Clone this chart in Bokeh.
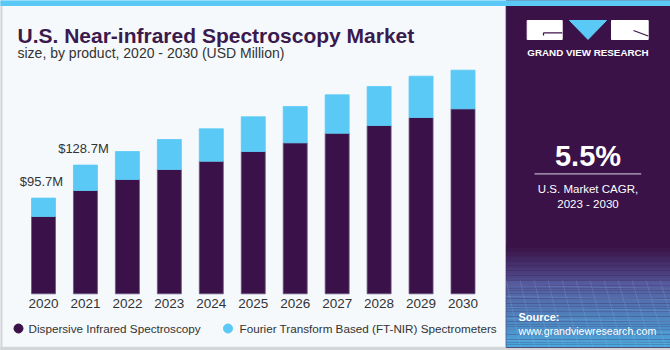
from bokeh.plotting import figure
from bokeh.models import Range1d, ColumnDataSource
from bokeh.core.properties import value
from bokeh.embed import file_html
from bokeh.resources import INLINE

# ---------------- data ----------------
years = [2020, 2021, 2022, 2023, 2024, 2025, 2026, 2027, 2028, 2029, 2030]
dispersive = [77.3, 103.3, 114.3, 124.3, 132.6, 142.3, 151.0, 160.6, 168.3, 176.3, 185.0]
ftnir = [18.4, 25.4, 28.0, 30.0, 32.4, 34.7, 36.3, 38.4, 39.0, 41.3, 38.6]
series_names = ["Dispersive Infrared Spectroscopy", "Fourier Transform Based (FT-NIR) Spectrometers"]
year_labels = [str(y) for y in years]
annot_years = [2020, 2021]
title_text = "U.S. Near-infrared Spectroscopy Market"
subtitle_text = "size, by product, 2020 - 2030 (USD Million)"
cagr_text = "5.5%"
cagr_caption = ["U.S. Market CAGR,", "2023 - 2030"]

# ---------------- style ----------------
DARK = "#3a1148"
CYAN = "#5bc9f5"
PANEL = "#3a1247"
BG = "#f5f9fc"
TXT = "#333333"
FONT = "Liberation Sans"

W, H = 670, 350
p = figure(width=W, height=H, output_backend="svg", toolbar_location=None,
           x_range=Range1d(2018.975, 2034.946), y_range=Range1d(-56.7, 293.3),
           x_axis_type=None, y_axis_type=None, min_border=0)
p.grid.visible = False
p.outline_line_color = None
p.background_fill_color = BG
p.border_fill_color = BG
p.extra_x_ranges = {"px": Range1d(0, W)}
p.extra_y_ranges = {"px": Range1d(H, 0)}
PX = dict(x_range_name="px", y_range_name="px")

# borders / stripes
p.quad(left=[0], right=[1.5], top=[0], bottom=[H], color="#d3d6d9", **PX)
p.quad(left=[0], right=[W], top=[346.8], bottom=[H], color="#d3d6d9", **PX)
p.quad(left=[505.7], right=[W], top=[0], bottom=[346.8], color=PANEL, **PX)
p.quad(left=[0], right=[W], top=[0], bottom=[5], color=CYAN, **PX)


def mix(c1, c2, t):
    a = [int(c1[i:i + 2], 16) for i in (1, 3, 5)]
    b = [int(c2[i:i + 2], 16) for i in (1, 3, 5)]
    return "#%02x%02x%02x" % tuple(round(a[k] + (b[k] - a[k]) * t) for k in range(3))


# source area gradient
tops, bots, cols = [], [], []
y0, y1, y2 = 245.0, 280.0, 346.8
n1, n2 = 14, 26
for i in range(n1):
    tops.append(y0 + (y1 - y0) * i / n1)
    bots.append(y0 + (y1 - y0) * (i + 1) / n1)
    cols.append(mix(PANEL, "#4e4a8a", i / (n1 - 1)))
for i in range(n2):
    tops.append(y1 + (y2 - y1) * i / n2)
    bots.append(y1 + (y2 - y1) * (i + 1) / n2)
    cols.append(mix("#55589a", "#4aa6db", i / (n2 - 1)))
p.quad(left=505.7, right=W, top=tops, bottom=bots, color=cols, line_color=None, **PX)

# faint mesh lines in the source image
for k in range(12):
    xs = [505.7 + k * 14, 520 + k * 14.5]
    p.line(x=xs, y=[280, 346.8], line_color="#9fc8ee", line_alpha=0.18, line_width=1, **PX)
for k in range(6):
    yy = 285 + k * 11
    p.line(x=[505.7, W], y=[yy, yy + 3], line_color="#9fc8ee", line_alpha=0.18, line_width=1, **PX)

# logo
p.quad(left=[526.7, 611.0], right=[561.7, 647.7], top=[20, 20], bottom=[39, 39], color="white", **PX)
p.patch(x=[569, 606, 587.5], y=[20, 20, 39], color=CYAN, **PX)
p.line(x=[543, 561.7], y=[32.3, 32.3], line_color=PANEL, line_width=1.2, **PX)
p.line(x=[543, 543], y=[32.3, 35], line_color=PANEL, line_width=1.2, **PX)
p.line(x=[633, 647.7], y=[30, 35.5], line_color=PANEL, line_width=1.2, **PX)
p.text(x=[587.5], y=[51.5], text=["GRAND VIEW RESEARCH"], text_font=value(FONT), text_font_style="bold",
       text_font_size="9.8px", text_color="white", text_align="center", text_baseline="middle", **PX)

# CAGR block
p.text(x=[587.5], y=[155.5], text=[cagr_text], text_font=value(FONT), text_font_style="bold",
       text_font_size="29px", text_color="white", text_align="center", text_baseline="middle", **PX)
p.line(x=[534, 640.7], y=[173.3, 173.3], line_color="#b9adc4", line_width=1.3, **PX)
p.text(x=[587.5, 587.5], y=[188, 203.5], text=cagr_caption, text_font=value(FONT),
       text_font_size="11.5px", text_color="white", text_align="center", text_baseline="middle", **PX)

# source
p.text(x=[518], y=[316.5], text=["Source:"], text_font=value(FONT), text_font_style="bold",
       text_font_size="11px", text_color="white", text_align="left", text_baseline="middle", **PX)
p.text(x=[518], y=[330], text=["www.grandviewresearch.com"], text_font=value(FONT),
       text_font_size="10.6px", text_color="white", text_align="left", text_baseline="middle", **PX)

# titles
p.text(x=[17], y=[35], text=[title_text], text_font=value(FONT), text_font_style="bold",
       text_font_size="21px", text_color="#3b1a4d", text_align="left", text_baseline="alphabetic", **PX)
p.text(x=[17], y=[52], text=[subtitle_text], text_font=value(FONT),
       text_font_size="14px", text_color=TXT, text_align="left", text_baseline="alphabetic", **PX)

# ---------------- bars ----------------
src = ColumnDataSource(dict(year=years, dispersive=dispersive, ftnir=ftnir,
                            label=year_labels))
p.vbar_stack(["dispersive", "ftnir"], x="year", width=0.572, source=src,
             fill_color=[DARK, CYAN], line_color=["#6b5580", CYAN], line_width=0.8)

# year labels below the baseline
src_lab = ColumnDataSource(dict(year=years, y=[0] * len(years), label=year_labels))
p.text(x="year", y="y", text="label", source=src_lab, y_offset=10, text_font=value(FONT),
       text_font_size="13.5px", text_color=TXT, text_align="center", text_baseline="middle")

# total annotations for first two years
tot = [d + f for d, f in zip(dispersive, ftnir)]
ann_x = [y for y in years if y in annot_years]
ann_y = [tot[years.index(y)] for y in ann_x]
ann_t = ["$%.1fM" % v for v in ann_y]
p.text(x=ann_x, y=ann_y, text=ann_t, x_offset=-2, y_offset=-9, text_font=value(FONT),
       text_font_size="13px", text_color=TXT, text_align="center", text_baseline="bottom")

# ---------------- legend ----------------
p.scatter(x=[18, 227.5], y=[328, 328], size=9, marker="circle", color=[DARK, CYAN], **PX)
p.text(x=[28, 239], y=[327.5, 327.5], text=series_names, text_font=value(FONT),
       text_font_size="11.7px", text_color=TXT, text_align="left", text_baseline="middle", **PX)

open("out.html", "w").write(file_html(p, INLINE))
